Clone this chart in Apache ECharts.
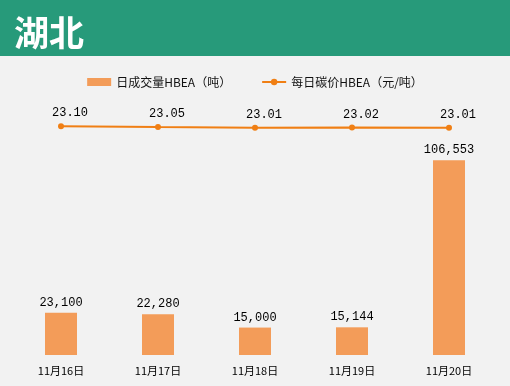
<!DOCTYPE html>
<html>
<head>
<meta charset="utf-8">
<script src="https://cdn.jsdelivr.net/npm/echarts@6/dist/echarts.min.js"></script>
<style>
  html, body { margin: 0; padding: 0; background: #f2f2f2; }
  #main { width: 510px; height: 386px; }
</style>
</head>
<body>
<div id="main"></div>
<script>
// 湖北 daily data
const days = ['11月16日', '11月17日', '11月18日', '11月19日', '11月20日'];
const volume = [23100, 22280, 15000, 15144, 106553];
const price = [23.10, 23.05, 23.01, 23.02, 23.01];

const chart = echarts.init(document.getElementById('main'));
const cjk = '"Noto Sans CJK SC", sans-serif';
const mono = 'SimSun, "Liberation Mono", monospace';

chart.setOption({
  backgroundColor: '#f2f2f2',
  animation: false,
  graphic: [
    { type: 'rect', left: 0, top: 0, shape: { width: 510, height: 56 }, style: { fill: '#279a7a' } },
    { type: 'text', left: 14, top: 15, style: { text: '湖北', fill: '#fff', font: 'bold 35px ' + cjk } }
  ],
  legend: {
    top: 71,
    left: 'center',
    itemGap: 30,
    itemWidth: 24,
    itemHeight: 8,
    textStyle: { fontFamily: cjk, fontSize: 12, color: '#111' },
    data: [
      { name: '日成交量HBEA（吨）', icon: 'rect' },
      { name: '每日碳价HBEA（元/吨）' }
    ]
  },
  grid: { left: 12.5, right: 12.5, top: 110, bottom: 31 },
  xAxis: {
    type: 'category',
    data: days,
    axisLine: { show: false },
    axisTick: { show: false },
    axisLabel: { margin: 10, fontFamily: cjk, fontSize: 11, color: '#000' }
  },
  yAxis: [
    { type: 'value', min: 0, max: 134000, show: false, splitLine: { show: false } },
    { type: 'value', min: 8.44, max: 24.14, show: false, splitLine: { show: false } }
  ],
  series: [
    {
      name: '日成交量HBEA（吨）',
      type: 'bar',
      data: volume,
      barWidth: 32,
      itemStyle: { color: '#f39c59' },
      label: {
        show: true,
        position: 'top',
        distance: 4,
        fontFamily: mono,
        fontSize: 12,
        color: '#000',
        formatter: p => p.value.toLocaleString('en-US')
      }
    },
    {
      name: '每日碳价HBEA（元/吨）',
      type: 'line',
      yAxisIndex: 1,
      data: price,
      symbol: 'circle',
      symbolSize: 6,
      lineStyle: { color: '#f07f14', width: 2 },
      itemStyle: { color: '#f07f14' },
      label: {
        show: true,
        position: 'top',
        distance: 4,
        offset: [9, 0],
        fontFamily: mono,
        fontSize: 12,
        color: '#000',
        formatter: p => p.value.toFixed(2)
      }
    }
  ]
});
</script>
</body>
</html>
